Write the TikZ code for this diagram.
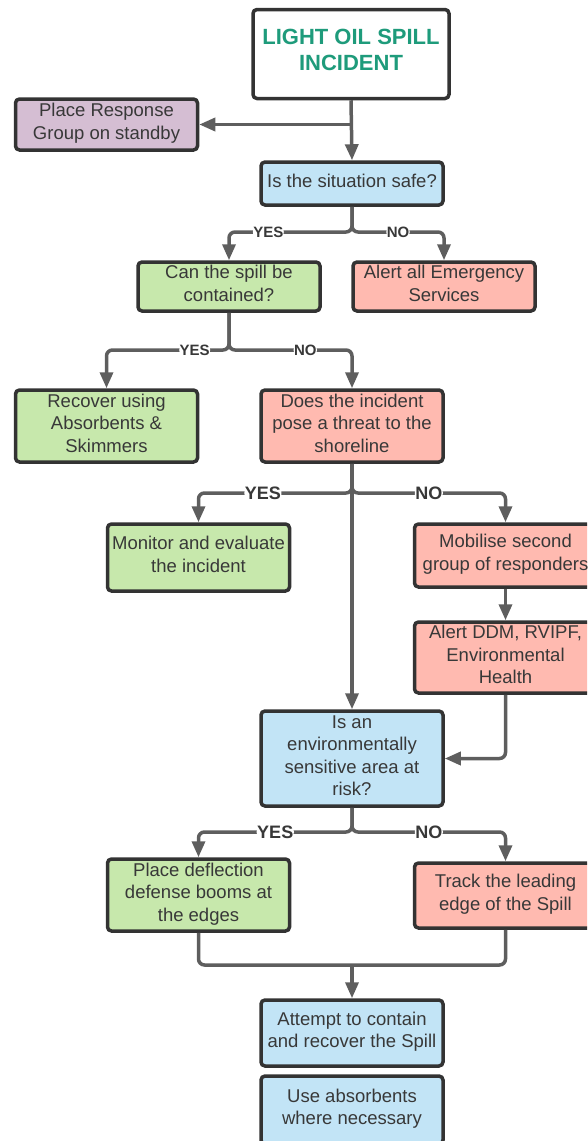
\documentclass[tikz,border=0pt]{standalone}
\usepackage{fontspec}
\setmainfont{Liberation Sans}
\usetikzlibrary{arrows.meta}
\definecolor{boxline}{HTML}{333333}
\definecolor{linegray}{HTML}{5E5E5E}
\definecolor{txt}{HTML}{383838}
\definecolor{titlegreen}{HTML}{1E9B7B}
\definecolor{fillblue}{HTML}{C2E4F6}
\definecolor{fillgreen}{HTML}{C7E8AC}
\definecolor{fillred}{HTML}{FFBAB0}
\definecolor{fillpurple}{HTML}{D5BED3}

\begin{document}
\begin{tikzpicture}[x=1pt, y=-1pt,
  box/.style={draw=boxline, line width=3.5pt, rounded corners=4pt, align=center,
    text=txt, font=\fontsize{18.5}{22.5}\selectfont, minimum width=182pt, inner sep=2pt,
    text depth=6pt},
  line/.style={draw=linegray, line width=3.5pt, rounded corners=6pt},
  arr/.style={line, -{Triangle[length=16pt, width=13pt]}},
  lbl/.style={fill=white, inner sep=0.5pt, text=txt, font=\bfseries\fontsize{15}{15}\selectfont},
  biglbl/.style={lbl, font=\bfseries\fontsize{18}{18}\selectfont}]
  % page is 587 x 1141, right column runs off the edge
  \useasboundingbox (0,0) rectangle (587,1141);
  \clip (0,0) rectangle (587,1141);

  \node[box, fill=white, minimum width=196pt, minimum height=89pt, text depth=8pt,
    text=titlegreen, font=\bfseries\fontsize{22}{26.5}\selectfont] (title) at (351,54)
    {LIGHT OIL SPILL\\INCIDENT};
  \node[box, fill=fillpurple, minimum height=51pt] (standby) at (106.5,124.5) {Place Response\\Group on standby};
  \node[box, fill=fillblue, minimum height=43pt] (safe) at (352,183.5) {Is the situation safe?};
  \node[box, fill=fillgreen, minimum height=49pt] (contain) at (229,286.5) {Can the spill be\\contained?};
  \node[box, fill=fillred, minimum height=49pt] (services) at (444,286.5) {Alert all Emergency\\Services};
  \node[box, fill=fillgreen, minimum height=72pt] (recover) at (106.5,426) {Recover using\\Absorbents \&\\Skimmers};
  \node[box, fill=fillred, minimum height=72pt] (threat) at (352,426) {Does the incident\\pose a threat to the\\shoreline};
  \node[box, fill=fillgreen, minimum height=67pt] (monitor) at (198.5,557.5) {Monitor and evaluate\\the incident};
  \node[box, fill=fillred, minimum height=63pt] (mobilise) at (505.5,555.5) {Mobilise second\\group of responders};
  \node[box, fill=fillred, minimum height=71pt] (agencies) at (505.5,657.5) {Alert DDM, RVIPF,\\Environmental\\Health};
  \node[box, fill=fillblue, minimum height=95pt] (sensitive) at (352,758.5) {Is an\\environmentally\\sensitive area at\\risk?};
  \node[box, fill=fillgreen, minimum height=72pt] (booms) at (198.5,895) {Place deflection\\defense booms at\\the edges};
  \node[box, fill=fillred, minimum height=65pt] (track) at (505.5,895.5) {Track the leading\\edge of the Spill};
  \node[box, fill=fillblue, minimum height=66pt] (attempt) at (352,1033) {Attempt to contain\\and recover the Spill};
  \node[box, fill=fillblue, minimum height=68pt] (absorb) at (352,1110) {Use absorbents\\where necessary};

  % junctions
  \coordinate (J0) at (title.south |- standby.east);
  \coordinate (J1) at (352,232);
  \coordinate (J2) at (229,350);
  \coordinate (J3) at (352,493);
  \coordinate (J4) at (352,832);
  \coordinate (J5) at (352,965);

  \draw[arr] (title.south) -- (safe.north);
  \draw[arr] (J0) -- (standby.east);

  \draw[arr] (safe.south) -- (J1) -| node[lbl, pos=.34] {YES} (contain.north);
  \draw[arr] (safe.south) -- (J1) -| node[lbl, pos=.25] {NO} (services.north);

  \draw[arr] (contain.south) -- (J2) -| node[lbl, pos=.14] {YES} (recover.north);
  \draw[arr] (contain.south) -- (J2) -| node[lbl, pos=.31] {NO} (threat.north);

  \draw[arr] (threat.south) -- (sensitive.north);
  \draw[arr] (threat.south) -- (J3) -| node[biglbl, pos=.29] {YES} (monitor.north);
  \draw[arr] (threat.south) -- (J3) -| node[biglbl, pos=.25] {NO} (mobilise.north);
  \draw[arr] (mobilise.south) -- (agencies.north);
  \draw[arr] (agencies.south) |- (sensitive.east);

  \draw[arr] (sensitive.south) -- (J4) -| node[biglbl, pos=.25] {YES} (booms.north);
  \draw[arr] (sensitive.south) -- (J4) -| node[biglbl, pos=.25] {NO} (track.north);

  \draw[line] (booms.south) |- (J5) -| (track.south);
  \draw[arr] (J5) -- (attempt.north);
\end{tikzpicture}
\end{document}
